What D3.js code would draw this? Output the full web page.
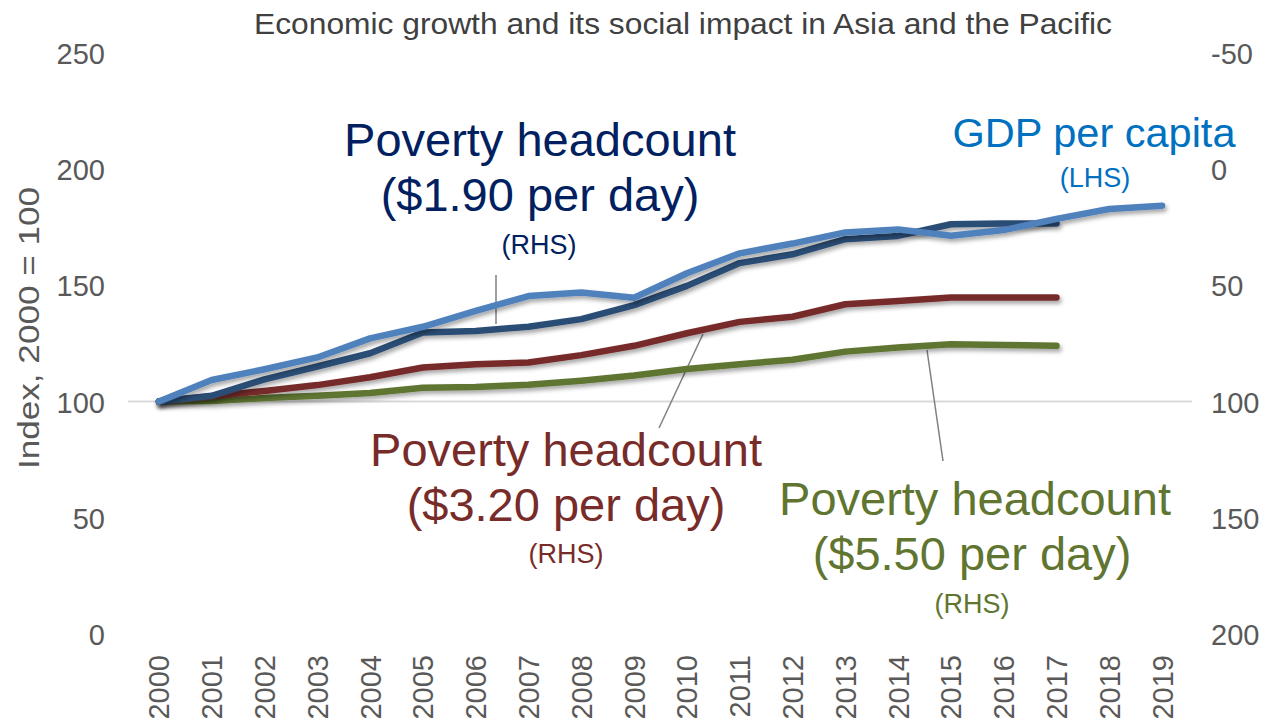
<!DOCTYPE html>
<html>
<head>
<meta charset="utf-8">
<title>Economic growth and its social impact in Asia and the Pacific</title>
<style>
  body { margin: 0; background: #ffffff; font-family: 'Liberation Sans', Arial, sans-serif; }
  .tick text { fill: #595959; font-size: 29px; }
  .lbl { font-family: 'Liberation Sans', Arial, sans-serif; }
</style>
</head>
<body>
<div id="chart"></div>
<script src="https://d3js.org/d3.v7.min.js"></script>
<script>

// years on the x axis
var years = d3.range(2000, 2020).map(String)

// GDP per capita, index 2000 = 100 (left axis)
var gdp = [100, 109.3, 113.9, 119, 127.2, 132.2, 139, 145.4, 146.9, 144.7,
           155.2, 163.8, 168, 172.8, 174.1, 171.4, 173.8, 178.6, 182.9, 184.3]

// poverty headcount indices (right axis, inverted), 2000-2017
var pov190 = [100, 97.5, 90.4, 84.9, 79.2, 70.3, 69.6, 67.8, 64.5, 58.5,
              50.2, 40.4, 36.6, 30.1, 28.7, 23.7, 23.4, 23.4]
var pov320 = [100, 97.7, 95.4, 92.9, 89.5, 85.3, 83.9, 83.2, 80, 76,
              70.6, 65.7, 63.5, 58.1, 56.7, 55.2, 55.2, 55.2]
var pov550 = [100, 99.7, 98.5, 97.5, 96.3, 94, 93.7, 92.7, 91, 88.8,
              86, 83.9, 82, 78.5, 76.7, 75.3, 75.6, 76]

var leftTicks = [0, 50, 100, 150, 200, 250]
var rightTicks = [-50, 0, 50, 100, 150, 200]

var width = 1273,
    height = 726

var svg = d3.select("#chart").append("svg")
  .attr("width", width)
  .attr("height", height)

// soft shadow under the lines
var filter = svg.append("defs").append("filter")
  .attr("id", "shadow")
  .attr("x", "-5%").attr("y", "-20%")
  .attr("width", "110%").attr("height", "140%")
filter.append("feDropShadow")
  .attr("dx", 2).attr("dy", 3)
  .attr("stdDeviation", 2)
  .attr("flood-color", "#000000")
  .attr("flood-opacity", 0.35)

var x = d3.scaleBand().domain(years).range([132.5, 1188.5])
var yL = d3.scaleLinear().domain([0, 250]).range([634, 53])
var yR = d3.scaleLinear().domain([-50, 200]).range([53, 634])

function cx(d, i) { return x(years[i]) + x.bandwidth() / 2 }

// plain hyphen for negatives, like the original
function fmt(d) { return String(d) }

// title
svg.append("text")
  .attr("class", "lbl")
  .attr("x", 683).attr("y", 34)
  .attr("text-anchor", "middle")
  .attr("fill", "#404040")
  .attr("textLength", 858)
  .attr("lengthAdjust", "spacingAndGlyphs")
  .style("font-size", "29px")
  .text("Economic growth and its social impact in Asia and the Pacific")

// left axis
svg.append("g")
  .attr("transform", "translate(132,0)")
  .call(d3.axisLeft(yL).tickValues(leftTicks).tickFormat(fmt).tickSize(0).tickPadding(27))
  .call(function (g) { g.select(".domain").remove() })
  .selectAll("text").attr("dy", "0.36em")

// right axis
svg.append("g")
  .attr("transform", "translate(1189,0)")
  .call(d3.axisRight(yR).tickValues(rightTicks).tickFormat(fmt).tickSize(0).tickPadding(22))
  .call(function (g) { g.select(".domain").remove() })
  .selectAll("text").attr("dy", "0.36em")

// y axis title
svg.append("text")
  .attr("class", "lbl")
  .attr("transform", "translate(39,328) rotate(-90)")
  .attr("text-anchor", "middle")
  .attr("fill", "#595959")
  .attr("textLength", 282)
  .attr("lengthAdjust", "spacingAndGlyphs")
  .style("font-size", "29px")
  .text("Index, 2000 = 100")

// line across at 100
svg.append("line")
  .attr("x1", 128).attr("x2", 1192)
  .attr("y1", yL(100)).attr("y2", yL(100))
  .attr("stroke", "#d9d9d9")
  .attr("stroke-width", 2)

// x axis with rotated year labels
var xAxis = svg.append("g")
  .attr("transform", "translate(0,634)")
  .call(d3.axisBottom(x).tickSize(0))
xAxis.select(".domain").remove()
xAxis.selectAll("text")
  .attr("text-anchor", "end")
  .attr("transform", "rotate(-90)")
  .attr("x", -21)
  .attr("y", 0)
  .attr("dy", "0.36em")

// leader lines
var leaders = [[496, 275, 496, 324], [703, 334, 659, 428], [927, 350, 943, 461]]
svg.append("g").selectAll("line")
  .data(leaders).enter().append("line")
  .attr("x1", function (d) { return d[0] })
  .attr("y1", function (d) { return d[1] })
  .attr("x2", function (d) { return d[2] })
  .attr("y2", function (d) { return d[3] })
  .attr("stroke", "#808080")
  .attr("stroke-width", 1.5)

var lineL = d3.line().x(cx).y(function (d) { return yL(d) })
var lineR = d3.line().x(cx).y(function (d) { return yR(d) })

var series = [
  { values: pov550, path: lineR, color: "#5F7530" },
  { values: pov320, path: lineR, color: "#772C2A" },
  { values: pov190, path: lineR, color: "#2C4D75" },
  { values: gdp, path: lineL, color: "#4F81BD" }
]

svg.append("g").selectAll("path")
  .data(series).enter().append("path")
  .attr("d", function (d) { return d.path(d.values) })
  .attr("fill", "none")
  .attr("stroke", function (d) { return d.color })
  .attr("stroke-width", 6.5)
  .attr("stroke-linecap", "round")
  .attr("stroke-linejoin", "round")
  .attr("filter", "url(#shadow)")

// series labels
function label(lines, color) {
  svg.append("g").selectAll("text")
    .data(lines).enter().append("text")
    .attr("class", "lbl")
    .attr("x", function (d) { return d[0] })
    .attr("y", function (d) { return d[1] })
    .attr("text-anchor", "middle")
    .attr("fill", color)
    .style("font-size", function (d) { return d[2] + "px" })
    .text(function (d) { return d[3] })
}

label([[540, 156, 47, "Poverty headcount"],
       [540, 211, 47, "($1.90 per day)"],
       [539, 254, 27, "(RHS)"]], "#002060")
label([[566, 466, 47, "Poverty headcount"],
       [566, 521, 47, "($3.20 per day)"],
       [566, 563, 27, "(RHS)"]], "#772C2A")
label([[975, 515, 47, "Poverty headcount"],
       [972, 570, 47, "($5.50 per day)"],
       [972, 613, 27, "(RHS)"]], "#5F7530")
label([[1094, 147, 41.5, "GDP per capita"],
       [1095, 187, 27, "(LHS)"]], "#0070C0")

</script>
</body>
</html>
